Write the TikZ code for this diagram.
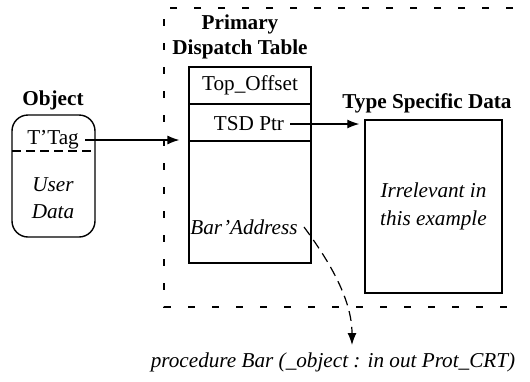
\documentclass[tikz,border=0pt]{standalone}
\usepackage{fontspec}
\setmainfont{Liberation Serif}
\usetikzlibrary{arrows.meta, positioning}

\begin{document}
\begin{tikzpicture}[
    x=0.5pt, y=-0.5pt,
    base_text/.style={
        inner sep=3pt,
        font=\fontsize{10.6pt}{12.6pt}\selectfont
    },
    title_node/.style={
        base_text,
        align=center,
        font=\fontsize{10.6pt}{12.5pt}\selectfont\bfseries
    },
    cell_node/.style={
        rectangle,
        draw,
        line width=0.6pt,
        minimum width=61pt,
        inner sep=0pt,
        font=\fontsize{10.6pt}{12.6pt}\selectfont
    },
    obj_node/.style={
        rectangle,
        draw,
        line width=0.7pt,
        rounded corners=8pt,
        minimum width=41.5pt,
        minimum height=61pt
    },
    tsd_node/.style={
        rectangle,
        draw,
        line width=0.7pt,
        minimum width=68.5pt,
        minimum height=86.5pt,
        align=center,
        font=\fontsize{10.6pt}{14pt}\selectfont\itshape
    },
    arrow/.style={-{Latex[length=6pt,width=4.5pt]}, line width=0.6pt},
    call_arrow/.style={-{Latex[length=6pt,width=4.5pt]}, line width=0.6pt, dash pattern=on 5pt off 3pt},
    region_line/.style={line width=0.6pt, dash pattern=on 3.5pt off 8.5pt},
    divider_line/.style={line width=0.6pt, dash pattern=on 4.5pt off 2.5pt}
]
    \useasboundingbox (0,0) rectangle (530,381);

    % Dashed region around dispatch table and TSD
    \draw[region_line] (513,8) -- (164,8) -- (164,307) -- (513,307);

    % Object
    \node[title_node] (obj_title) at (53,100) {Object};
    \node[obj_node] (obj) at (53.5,176) {};
    \node[base_text] (ttag) at (53,140) {T’Tag};
    \node[base_text, align=center, font=\fontsize{10.6pt}{13.5pt}\selectfont\itshape] (user_data) at (53,198) {User\\Data};
    \coordinate (div_l) at (12,151);
    \coordinate (div_r) at (95,151);
    \draw[divider_line] (div_l) -- (div_r);

    % Primary dispatch table
    \node[title_node] (pdt_title) at (240,37) {Primary\\Dispatch Table};
    \node[cell_node, minimum height=18.5pt] (pdt_top) at (250,85.5) {Top\_Offset};
    \node[cell_node, minimum height=18.5pt] (pdt_tsd) at (250,122.5) {};
    \node[cell_node, minimum height=61pt] (pdt_body) at (250,202) {};
    \node[base_text] (tsd_ptr) at (249,124) {TSD Ptr};
    \node[base_text, font=\fontsize{10.6pt}{12.6pt}\selectfont\itshape] (bar_addr) at (244,227) {Bar’Address};

    % Type specific data
    \node[title_node] (tsd_title) at (427,103) {Type Specific Data};
    \node[tsd_node] (tsd) at (433.5,206.5) {Irrelevant in\\this example};

    % Called procedure
    \node[base_text, font=\fontsize{10.6pt}{12.6pt}\selectfont\itshape] (proc) at (333,362) {procedure Bar (\_object : in out Prot\_CRT)};
    \coordinate (call_end) at (352,345);

    % Arrows
    \draw[arrow, shorten >=4.5pt] (ttag.east) -- (ttag.east -| pdt_body.west);
    \draw[arrow, shorten >=2.5pt] (tsd_ptr.east) -- (tsd_ptr.east -| tsd.west);
    \draw[call_arrow] (bar_addr.east) .. controls (330,262) and (352,300) .. (call_end);

\end{tikzpicture}
\end{document}
